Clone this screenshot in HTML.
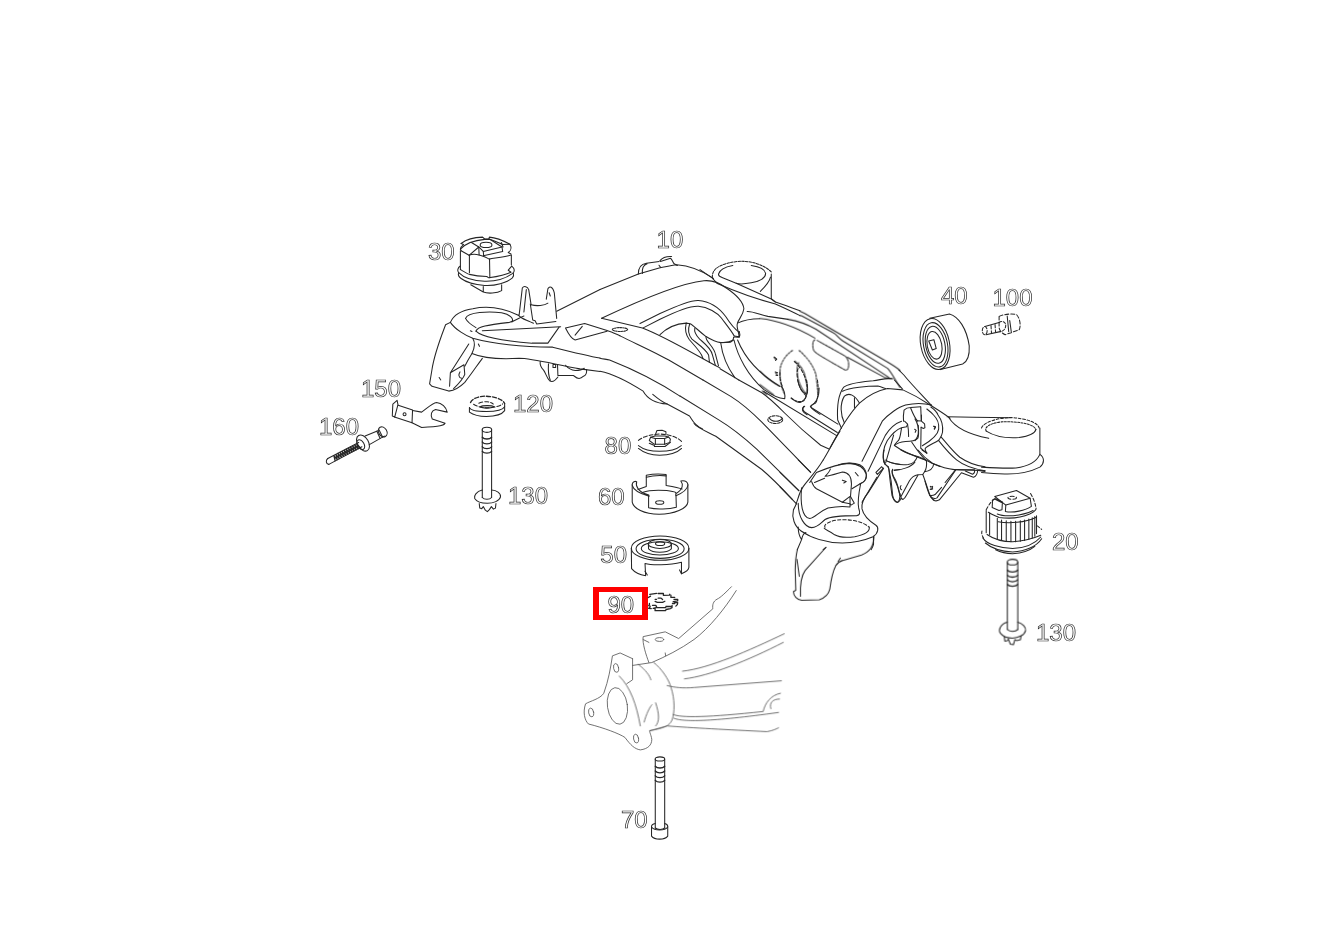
<!DOCTYPE html>
<html><head><meta charset="utf-8">
<style>
html,body{margin:0;padding:0;background:#fff;width:1326px;height:938px;overflow:hidden}
svg{position:absolute;left:0;top:0}
.d path,.d ellipse,.d line,.d polyline,.d circle{fill:none;stroke:#262626;stroke-width:1.05;vector-effect:non-scaling-stroke;stroke-linejoin:round;stroke-linecap:round}
.lbl{font-family:"Liberation Sans",sans-serif;font-size:24px;fill:none;stroke:#2e2e2e;stroke-width:0.72;will-change:transform}
.lt path,.lt ellipse{stroke:#585858;stroke-width:0.85}
</style></head><body>
<svg width="1326" height="938" viewBox="0 0 1326 938" class="d">
<!-- labels -->
<g class="lbl">
<text x="428" y="259.5">30</text>
<text x="656.6" y="247.5">10</text>
<text x="941" y="304.3">40</text>
<text x="992.5" y="306">100</text>
<text x="361" y="397">150</text>
<text x="513" y="412">120</text>
<text x="319" y="435">160</text>
<text x="604.6" y="453.5">80</text>
<text x="508" y="503.5">130</text>
<text x="598" y="505">60</text>
<text x="600.3" y="563">50</text>
<text x="1052" y="549.5">20</text>
<text x="607.5" y="612.5">90</text>
<text x="1036" y="640.5">130</text>
<text x="621" y="828">70</text>
</g>
<path d="M593,587 H648 V620 H593 Z M599,592 V615 H642 V592 Z" fill-rule="evenodd" style="fill:#ff0000;stroke:none"/>
<!-- part 30 -->
<g transform="translate(450,230) scale(0.069324)">
<path d="M160,195 C230,140 360,105 470,103 L500,130 L560,130 L568,103 C660,110 780,160 865,205 C890,250 880,300 840,325 L880,345"/>
<path d="M160,195 L195,210 C170,230 150,255 150,275 L160,300"/>
<path d="M150,275 C210,210 330,150 500,135 L560,132 C640,150 740,200 760,210 L865,205"/>
<path d="M310,180 L415,245 L480,310 L750,245 L570,130"/>
<path d="M415,245 L420,360 M480,310 L485,365 M750,245 L760,310 L480,370"/>
<path d="M740,180 L765,245"/>
<ellipse cx="520" cy="215" rx="85" ry="38"/>
<path d="M160,300 L275,365 L415,245"/>
<path d="M150,300 L150,570 M280,365 L280,615 M885,360 L885,500"/>
<path d="M275,365 C320,345 380,350 420,360 C470,375 520,390 565,420 C680,400 800,385 880,360"/>
<path d="M570,420 L575,690"/>
<path d="M150,570 C200,600 240,625 280,640 C360,660 450,668 530,670 L560,690 C700,670 800,650 880,610 L840,580 L890,520"/>
<path d="M150,520 C110,545 100,590 125,615 C200,690 340,735 500,740 C660,745 800,700 900,630 C940,600 935,555 890,520"/>
<path d="M125,615 C115,640 120,670 160,700 C240,760 380,790 500,800 C650,810 820,760 900,690 C915,670 920,640 915,625"/>
<path d="M300,790 L480,895 M480,815 L480,895 C540,920 680,915 745,875 L745,790"/>
</g>
<!-- region left end -->
<g transform="translate(420,280) scale(0.15987)">
<path d="M190,265 C210,220 260,190 330,180 C420,160 520,175 615,220"/>
<path d="M285,240 C300,200 430,195 510,205 C560,215 590,240 575,262"/>
<path d="M285,240 C295,262 320,280 350,298"/>
<path d="M350,320 C360,290 420,282 560,265 C600,255 625,232 650,225"/>
<path d="M350,320 C380,350 500,380 700,395 L800,395 L870,295"/>
<path d="M390,318 L880,292"/>
<path d="M190,265 L160,280 C130,360 90,460 75,560 L60,650 L75,665 L180,695 C220,690 260,660 280,640 C320,590 360,530 390,490"/>
<path d="M190,265 C220,310 290,350 330,365 C420,390 600,420 830,420 C950,450 1050,475 1126,488"/>
<path d="M330,365 C345,390 340,430 325,460 C300,500 290,520 280,540"/>
<path d="M305,400 L190,580 L185,665 M190,580 L275,530 L280,590 C270,620 240,650 210,680"/>
<path d="M325,460 C360,475 450,500 620,490 C700,490 850,530 1000,556 L1126,572"/>
<path d="M250,575 C240,590 240,610 260,615 M315,318 L325,322 M365,400 L372,415 M120,610 L130,625"/>
<path d="M620,220 L640,50 C650,35 672,40 680,60 L695,155 M650,200 L665,60"/>
<path d="M790,120 L800,55 C810,35 830,40 840,80 L855,240 M808,80 L815,100"/>
<path d="M695,155 C730,165 780,160 800,145"/>
<path d="M690,150 L705,250 L720,255 L730,275 L850,260"/>
<path d="M615,220 C630,240 650,245 690,262 L710,270"/>
<path d="M855,195 L1126,60"/>
<path d="M910,300 C930,340 950,370 970,375 L1170,320 M910,300 L1030,272 L1170,316 C1200,325 1230,340 1251,349 M970,345 L1015,290"/>
</g>
<!-- region top middle -->
<g transform="translate(600,240) scale(0.15987)">
<path d="M0,310 L240,212 L370,175 C420,165 450,158 480,155 C560,160 650,200 710,240"/>
<path d="M240,212 C240,170 255,150 290,145 L370,135 M265,210 C262,175 272,155 295,148"/>
<path d="M375,129 C388,113 414,101 448,103 M378,134 L441,114 C452,122 455,140 464,149 L484,159 M369,158 L379,171"/>
<path d="M10,490 C200,400 500,270 650,255 C700,250 750,270 790,300 C850,340 895,380 900,430 C895,470 870,490 860,520 C850,545 870,575 870,605 L840,600"/>
<path d="M10,490 L265,550 C400,600 600,720 750,800"/>
<ellipse cx="125" cy="560" rx="48" ry="12" stroke-dasharray="1.7 1.0"/>

<path d="M860,520 C900,500 950,492 1000,492"/>
</g>
<g transform="translate(760,290) scale(0.11191)">
<path d="M357,190 C375,198 390,205 400,210 L1150,650 C1200,680 1230,700 1251,720"/>
<path d="M357,228 C362,229 366,230 370,230 L650,380 C690,400 700,430 740,455 L1140,700 C1170,730 1200,790 1251,870"/>
<path d="M252,262 C330,275 420,305 500,350 L1150,780"/>
<path d="M0,255 C150,270 300,320 490,430"/>
<path d="M490,445 C470,450 465,500 480,540 C500,570 560,600 760,715 C790,720 795,690 790,640 C780,610 770,600 760,590 L510,450" stroke-dasharray="2.3 1.0"/>
<path d="M780,600 L1120,785 L1190,792"/>
<path d="M290,540 C230,580 190,640 180,700 C175,780 180,840 220,935 M350,540 C420,600 480,680 500,760 L520,935" stroke-dasharray="2.0 1.3"/>
<path d="M310,635 C340,660 380,690 400,760 C420,840 430,900 410,925 C380,900 340,820 335,760 C330,700 330,680 345,650" stroke-dasharray="2.0 1.0"/>
<path d="M0,725 C50,780 120,830 175,860 M0,845 L120,935 M20,900 L60,935"/>
<path d="M125,600 L140,620 M140,740 L155,760"/>
</g>
<!-- beam lower middle -->
<g transform="translate(600,360) scale(0.15987)">
<path d="M0,70 C100,90 200,150 270,195 C290,230 330,270 420,275 L560,350 C580,380 590,410 640,430"/>
<path d="M330,215 C360,240 390,265 420,275"/>
<path d="M0,-11 C20,-7 40,-4 60,0 C250,75 400,160 500,226"/>
<path d="M125,-151 C250,-90 350,-45 430,0 L644,125"/>
</g>
<g transform="translate(680,380) scale(0.12788)">
<path d="M110,340 C130,370 200,400 280,440 L640,700 C700,750 800,850 880,935"/>
<path d="M0,125 L300,310 C400,370 500,450 600,540 L930,865"/>
<path d="M180,0 L400,130 C480,180 560,250 640,330 L1020,720"/>
<path d="M460,0 L640,100 C700,140 760,200 820,260 C900,340 1000,430 1100,510 L1165,540"/>
<path d="M655,90 L1225,435"/>
<path d="M870,140 C900,165 940,180 970,160 C990,130 1000,100 995,50 L990,0" stroke-dasharray="2.7 1.3"/>
<path d="M920,0 C930,60 960,100 990,110"/>
<path d="M1075,0 C1085,80 1080,150 1060,180" stroke-dasharray="2.7 1.3"/>
<path d="M1060,180 C1030,195 1020,205 1025,215 L1235,345"/>
<path d="M975,205 C950,220 960,245 990,260 L1230,410"/>
<path d="M1251,400 C1200,480 1160,560 1120,625"/>
<ellipse cx="745" cy="310" rx="58" ry="30" stroke-dasharray="2.7 1.3"/>
<path d="M700,300 C720,330 780,330 800,300"/>
</g>
<!-- part 80 -->
<g transform="translate(625,420) scale(0.06394)">
<path d="M210,320 C280,260 400,225 540,220 C700,225 820,270 885,335" stroke-dasharray="4.0 2.0"/>
<path d="M210,400 C300,470 400,490 540,490 C700,490 820,450 880,400"/>
<path d="M210,445 C300,520 420,550 540,552 C700,550 820,510 885,445"/>
<path d="M400,270 L380,320 L460,380 L620,380 L700,350 L710,300 L680,265 L620,250 L470,250 Z"/>
<path d="M470,290 L620,290 L620,380 M475,300 L475,380 M470,290 L400,270 M620,290 L680,265"/>
<path d="M380,365 L460,400 L460,415 L625,415 L710,350"/>
<path d="M470,240 L500,165 L580,160 L640,185 L640,230"/>
</g>
<!-- part 60 & 50 -->
<g transform="translate(590,465) scale(0.12793)">
<path d="M330,150 L330,290 C340,340 420,385 540,385 C660,385 760,340 765,290 L765,150"/>
<path d="M330,150 C335,130 350,125 365,130 C355,160 370,210 460,235 L462,245 C390,225 340,200 330,160"/>
<path d="M765,150 C760,130 740,120 710,125 C730,150 730,190 670,225 L672,240 C720,220 760,190 765,160"/>
<path d="M375,192 L440,168 L440,80 C480,72 560,70 595,75 L595,160 C650,170 700,180 720,188"/>
<path d="M440,95 C480,85 560,82 595,85"/>
<path d="M410,215 C450,200 540,195 600,200 C640,205 660,210 670,215"/>
<path d="M458,240 L458,335 C520,350 620,345 675,330 L672,235"/>
<ellipse cx="545" cy="293" rx="32" ry="14"/>
<ellipse cx="548" cy="650" rx="225" ry="95"/>
<ellipse cx="548" cy="655" rx="188" ry="75"/>
<ellipse cx="546" cy="652" rx="145" ry="52"/>
<ellipse cx="546" cy="617" rx="90" ry="35"/>
<path d="M456,617 L458,655 C490,690 600,690 636,655 L636,617"/>
<ellipse cx="548" cy="615" rx="36" ry="14"/>
<path d="M323,650 L325,810 C350,840 400,860 435,865 L430,770 C480,785 620,785 715,760 L715,850 C740,840 770,820 773,800 L773,650"/>
<path d="M430,830 L448,860 M700,820 L715,850"/>
</g>
<g transform="translate(720,340) scale(0.07994)">
<path d="M0,30 C50,35 120,30 170,0"/>
<path d="M10,40 C30,200 100,350 185,470"/>
<path d="M175,0 C220,200 350,450 550,620 C650,690 750,730 810,735 C815,700 810,640 770,580"/>
<path d="M220,0 C300,200 450,400 750,580"/>
<path d="M0,360 L185,470 L235,500"/>
<path d="M750,400 C745,500 770,560 780,580" stroke-dasharray="3.3 2.0"/>
<path d="M1240,600 C1240,700 1220,750 1180,790 C1150,810 1130,830 1130,830 C1150,870 1200,900 1251,930"/>
<path d="M930,270 C1000,330 1080,450 1095,600 C1100,660 1080,700 1070,690 C1020,650 970,550 965,430 C965,380 970,360 990,340" stroke-dasharray="3.3 2.0"/>
<path d="M890,730 C930,760 980,785 1010,780 C1050,760 1080,720 1075,690"/>
<path d="M1050,830 C1010,870 1040,910 1090,935"/>
<path d="M680,215 L710,240 L695,255 M690,400 L720,410 M700,440 L720,445"/>
</g>
<!-- cross member top -->
<g transform="translate(830,375) scale(0.095923)">
<path d="M0,760 C100,580 200,400 310,290 C400,210 500,160 600,140 L760,155 C850,195 950,250 1040,310 C1120,360 1200,410 1251,450"/>
<path d="M719,-52 L770,0 C850,100 980,230 1060,320"/>
<path d="M130,170 C200,130 400,115 500,115 C550,125 560,140 580,140"/>
<path d="M120,555 L80,470 C70,300 90,200 140,130 C200,80 350,70 450,60 C530,50 580,30 640,40"/>
<path d="M150,500 C110,420 100,300 150,220 C200,180 260,210 305,290 M255,240 L255,340"/>
<path d="M90,935 C150,915 250,912 310,935"/>
</g>
<!-- front leg -->
<g transform="translate(780,460) scale(0.095923)">
<path d="M450,0 C380,120 280,220 240,280 C180,370 190,440 140,520 C120,600 150,690 220,740 C320,810 480,865 650,865 C800,862 900,830 970,800 C1030,760 1030,700 1000,680 C920,630 870,580 855,510 C845,450 870,400 920,340 L1080,85"/>
<path d="M855,440 L1010,180"/>
<path d="M190,450 C190,600 260,700 330,705 C400,700 420,660 470,620 C520,590 600,580 800,580 C830,575 840,560 820,500 C810,450 820,350 840,250"/>
<path d="M225,290 C210,450 230,600 310,610 C370,600 400,540 500,500 C600,480 700,485 730,490 L730,380 L650,440 L380,300 C350,280 335,240 330,225"/>
<path d="M470,170 C500,140 520,110 525,95 M470,170 C550,160 620,130 650,125 C720,130 745,180 745,250 L735,380 L775,450 L740,470 L728,455 L650,440"/>
<path d="M310,235 L380,130 C500,80 600,40 720,35 C820,40 880,80 900,150 C905,200 880,230 840,245 L750,300"/>
<path d="M470,700 C450,680 500,640 600,625 C700,615 850,630 930,700" stroke-dasharray="3.3 2.0"/>
<path d="M930,700 C940,750 880,780 780,800 C700,810 620,810 570,780 C520,740 470,730 460,710"/>
<path d="M190,0 L320,130 M0,130 L195,320 M0,280 L175,460 M360,235 L465,190"/>
<path d="M190,700 C190,750 205,800 225,830 C235,780 250,760 270,755 M225,830 L180,935"/>
<path d="M975,800 L975,880 C970,900 960,920 950,935 M450,935 L480,910"/>
<path d="M1080,0 C1085,40 1100,55 1130,70 C1160,200 1170,300 1175,370 C1180,400 1200,440 1230,440 C1251,420 1251,400 1251,350"/>
<path d="M1100,0 C1120,20 1200,40 1251,45 M1175,100 C1160,120 1170,160 1200,220 C1230,270 1240,340 1251,370 M1190,105 L1251,100"/>
<path d="M1000,130 L1060,70 L1075,90 L1015,150 Z M650,210 L690,225 L665,240 M785,130 L815,165"/>
</g>
<!-- right arm with seat -->
<g transform="translate(880,380) scale(0.15987)">
<path d="M420,230 C550,232 700,235 820,236"/>
<path d="M635,300 C650,260 750,235 820,235 C920,240 990,270 995,300" stroke-dasharray="2.7 1.7"/>
<path d="M665,320 C720,355 800,365 870,360 C930,350 970,330 975,310"/>
<path d="M665,320 C650,300 680,270 760,262 C850,258 960,270 975,310" stroke-dasharray="2.0 1.3"/>
<path d="M1000,300 L1000,465 C1030,485 1030,520 1000,545 C930,580 850,590 780,588 C740,587 690,584 635,578"/>
<path d="M1000,465 C980,510 930,540 850,550 C800,553 720,550 635,545"/>
<path d="M430,235 C470,300 550,340 680,365"/>
<path d="M90,0 L140,55"/>
</g>
<!-- part 20 -->
<g transform="translate(970,485) scale(0.085288)">
<path d="M290,135 L545,65 L705,155 L420,235 Z"/>
<path d="M420,235 L415,310 C500,330 650,300 720,250 L705,155"/>
<ellipse cx="495" cy="150" rx="50" ry="18" stroke-dasharray="4.0 2.0"/>
<path d="M265,175 L300,160 L380,200 L375,290 L340,300 L260,265 Z M300,170 L370,205"/>
<path d="M190,290 C220,230 260,180 290,160 M710,100 C740,150 760,200 770,250" stroke-dasharray="3.3 2.0"/>
<path d="M215,320 C260,350 320,370 340,380 C450,395 600,385 700,340 C760,310 780,290 775,270"/>
<path d="M320,340 C400,375 600,370 740,300"/>
<path d="M190,300 L190,560 M780,360 L780,570"/>
<path d="M230,330 L230,580 M320,390 L320,640 M370,410 L370,650 M425,420 L425,660 M480,425 L480,665 M535,425 L535,665 M590,420 L590,660 M640,410 L640,650 M690,400 L690,635 M730,385 L730,620 M760,370 L760,600"/>
<path d="M330,430 C450,455 650,440 770,380"/>
<path d="M200,580 C300,650 420,665 500,665 C650,660 760,620 830,590"/>
<path d="M150,620 C200,700 350,740 500,745 C650,740 760,690 830,610"/>
<path d="M180,680 C250,740 380,780 500,785 C650,780 780,720 840,630"/>
<path d="M300,760 C380,800 450,805 500,805 C600,800 700,770 760,720"/>
<path d="M140,540 C130,580 150,610 170,640 M790,480 L840,520" stroke-dasharray="2.7 2.0"/>
</g>
<!-- bolts 130 -->
<g transform="translate(980,555) scale(0.10128)">
<ellipse cx="321" cy="70" rx="52" ry="28"/>
<path d="M270,70 L270,735 M373,70 L373,735"/>
<path d="M270,150 C290,175 350,175 373,150 M270,200 C290,225 350,225 373,200 M270,245 C290,270 350,270 373,245 M270,290 C290,315 350,315 373,290" style="stroke-width:1.35"/>
<path d="M270,735 C290,760 350,760 373,735"/>
<path d="M270,662 C200,680 180,740 200,770 C230,810 290,820 320,820 C380,820 440,790 450,745 C455,710 420,675 373,662"/>
<path d="M240,805 L245,850 L270,845 L280,830 L300,880 L330,885 L345,835 L360,845 L400,835 L405,800"/>
</g>
<g transform="translate(460,420) scale(0.10128)">
<ellipse cx="266" cy="97" rx="47" ry="25"/>
<path d="M220,97 L220,765 M312,97 L312,765"/>
<path d="M220,170 C240,193 292,193 312,170 M220,218 C240,241 292,241 312,218 M220,265 C240,288 292,288 312,265 M220,310 C240,333 292,333 312,310" style="stroke-width:1.35"/>
<path d="M220,765 C240,788 292,788 312,765"/>
<path d="M220,692 C160,705 135,750 145,775 C170,815 230,822 270,822 C330,822 390,800 400,760 C405,720 360,695 312,692"/>
<path d="M190,825 L195,870 L215,875 L230,855 L250,890 L270,905 L290,885 L310,855 L330,880 L350,870 L355,825"/>
</g>
<!-- part 40 and 100 -->
<g transform="translate(910,280) scale(0.10125)">
<ellipse cx="248" cy="632" rx="142" ry="255" transform="rotate(-11 248 632)"/>
<ellipse cx="252" cy="640" rx="118" ry="222" transform="rotate(-11 252 640)"/>
<ellipse cx="250" cy="640" rx="95" ry="185" transform="rotate(-11 250 640)"/>
<ellipse cx="242" cy="645" rx="72" ry="138" transform="rotate(-11 242 645)"/>
<path d="M195,378 L390,335 C480,360 560,480 585,650 C590,750 560,810 520,830 L300,885"/>
<path d="M185,603 L236,589 L259,677 L221,692 Z"/>
<path d="M880,360 C920,340 990,330 1050,340 C1090,380 1095,450 1080,490 L1000,520 L940,540 C900,520 885,500 880,470 Z" stroke-dasharray="4.0 2.0"/>
<path d="M960,355 L975,510 M985,400 L1000,510"/>
<path d="M740,460 L880,420 M750,540 L890,510"/>
<ellipse cx="738" cy="500" rx="24" ry="40" stroke-dasharray="3.3 1.7"/>
<path d="M800,450 L805,525 M840,440 L845,515" stroke-dasharray="3.3 2.0"/>
<path d="M880,420 C900,400 940,410 945,440 C950,480 920,510 890,510" stroke-dasharray="2.7 1.7"/>
</g>
<!-- part 150, 160 -->
<g transform="translate(315,370) scale(0.10662)">
<path d="M780,330 L915,375 L910,495 L745,440"/>
<path d="M730,320 L770,285 L778,325 L748,440 L725,432 Z"/>
<path d="M915,380 L1000,395 C1050,360 1100,310 1140,305 C1190,310 1230,350 1240,395 L1130,370 C1090,380 1080,420 1100,460 L1220,500 C1210,520 1180,530 1000,540 L910,495"/>
<circle cx="840" cy="415" r="14"/>
<path d="M120,830 L410,680 M130,885 L440,720"/>
<path d="M120,830 C100,845 100,880 130,885"/>
<path d="M189,851 L177,803 L209,841 L197,793 L228,831 L216,783 L248,820 L236,773 L268,810 L255,763 L287,800 L275,753 L307,790 L294,742 L326,780 L314,732 L346,770 L333,722 L365,760 L353,712 L385,750 L373,702 L404,740 L392,692 L424,730" style="stroke-width:1.3"/>
<ellipse cx="450" cy="685" rx="52" ry="82" transform="rotate(-30 450 685)"/>
<ellipse cx="430" cy="700" rx="30" ry="50" transform="rotate(-30 430 700)"/>
<path d="M470,620 L590,570 M510,700 L650,620"/>
<ellipse cx="635" cy="580" rx="38" ry="50" transform="rotate(-30 635 580)"/>
<path d="M580,575 L610,640 M600,560 L635,630"/>
</g>
<!-- part 90 nut -->
<g transform="translate(640,585) scale(0.037707)">
<path d="M220,330 L280,295 M260,250 L440,220 M480,225 L620,225 L620,275 L780,270 L790,245 M820,270 L820,330 L920,330 M900,380 L1000,380 L1000,420 L880,440 M920,460 L1000,470 L990,520 L950,560 M860,490 L920,490" style="stroke-width:1.3"/>
<path d="M850,540 L850,600 L810,625 L690,650 L680,680 L400,680 L400,610 L350,620 M690,570 L820,570 M420,600 L680,600 L690,570 M330,540 L420,540 L440,580 M250,490 L250,520 L230,550 L270,560 L260,600 L230,620 L300,625" style="stroke-width:1.3"/>
<path d="M400,380 L440,380 M480,350 L560,350 L600,385 M400,435 L460,460 L600,460 L660,430" style="stroke-width:1.2"/>
</g><!-- bolt 70 -->
<g transform="translate(610,750) scale(0.10128)">
<ellipse cx="493" cy="88" rx="47" ry="20"/>
<path d="M447,88 L447,770 M540,88 L540,770"/>
<path d="M447,160 C467,183 520,183 540,160 M447,208 C467,231 520,231 540,208 M447,255 C467,278 520,278 540,255 M447,300 C467,323 520,323 540,300" style="stroke-width:1.35"/>
<path d="M447,725 C420,730 410,745 410,755 L410,850 C440,890 540,890 570,850 L570,755 C570,745 560,730 540,725"/>
<path d="M410,760 C440,800 540,800 570,760"/>
<path d="M447,770 C470,790 520,790 540,770"/>
</g>
<!-- knuckle (gray) -->
<g transform="translate(575,580) scale(0.19197)" class="lt">
<path d="M815,35 C780,70 760,90 740,100 C720,110 715,130 718,150 L540,305 L470,270 L355,295 C350,330 370,390 385,430"/>
<path d="M840,55 C780,150 700,250 620,310 C550,360 470,400 400,430 L300,445"/>
<path d="M355,310 L385,325 M470,380 L472,395"/>
<ellipse cx="440" cy="310" rx="22" ry="10"/>
<path d="M300,410 L235,380 L195,395 C185,460 175,520 150,590 C130,620 80,630 55,645 C40,690 50,730 70,750 C150,770 230,800 260,820 C290,860 310,880 340,885 C380,880 400,860 400,830 C395,800 385,790 390,785"/>
<path d="M300,410 L300,520 L270,540"/>
<ellipse cx="214" cy="458" rx="13" ry="23" transform="rotate(-10 214 458)"/>
<ellipse cx="84" cy="690" rx="13" ry="23" transform="rotate(-10 84 690)"/>
<ellipse cx="318" cy="826" rx="13" ry="23" transform="rotate(-10 318 826)"/>
<ellipse cx="221" cy="656" rx="52" ry="96" transform="rotate(-8 221 656)"/>
<path d="M410,430 C450,460 490,520 500,560 C520,620 520,690 505,730 C490,760 470,770 390,785"/>
<path d="M230,500 C290,560 320,650 340,760 M330,440 C370,470 390,500 395,520 M360,740 C370,700 390,660 400,650 M420,640 C440,700 440,740 420,760"/>
<path d="M560,475 C700,460 900,370 1090,280 M570,515 C700,500 900,420 1085,325"/>
<path d="M480,550 C520,560 560,565 620,560 L1075,525"/>
<path d="M510,700 C550,720 700,715 980,685 C990,640 1020,600 1070,590 M1020,670 C1010,640 1030,620 1065,620"/>
<path d="M515,720 C560,740 700,740 1060,690"/>
<path d="M390,785 L480,760 C600,770 800,780 1000,790 C1030,785 1050,775 1060,770"/>
</g>
<!-- leg bottom -->
<g transform="translate(770,500) scale(0.1173)">
<path d="M233,424 C222,470 216,520 215,600 L220,770 L200,780 C200,820 230,850 270,855 L420,850 C480,830 500,800 510,760 C520,680 530,620 560,560 C580,530 600,520 620,515 L780,470 C850,440 880,400 885,320 L885,310"/>
<path d="M260,820 C255,700 270,640 300,600 L475,405 M230,505 L250,650 M600,495 L580,525"/>
</g>
<!-- part 120 washer -->
<g transform="translate(460,385) scale(0.075415)">
<path d="M140,232 C160,180 250,150 330,148 C430,148 560,180 592,245" stroke-dasharray="4.0 2.0" style="stroke-width:1.4"/>
<path d="M180,255 C230,290 300,302 350,302 C450,302 530,282 565,250" stroke-dasharray="4.0 2.0"/>
<path d="M250,242 C280,225 330,220 360,222 C400,225 430,240 442,252" stroke-dasharray="4.0 2.0"/>
<path d="M265,290 C300,310 400,315 455,288 C420,268 300,268 265,290 Z"/>
<path d="M125,300 C140,340 250,352 350,352 C470,352 570,330 592,290 L592,245"/>
<path d="M125,300 L125,360 C180,400 270,418 350,418 C470,415 560,385 592,340 L592,290"/>
</g>
<!-- bushing under left arm -->
<g transform="translate(530,340) scale(0.075415)">
<path d="M135,285 C130,330 150,370 180,400 C210,440 220,500 260,540 C290,560 330,545 370,490"/>
<path d="M245,315 C240,400 245,480 270,535"/>
<path d="M305,325 L340,325 L340,365 L305,365 Z"/>
<path d="M365,335 L370,470 L575,470 C600,490 620,510 650,510 C680,510 700,490 710,480 C740,470 755,440 750,390"/>
<path d="M470,335 C500,370 540,400 600,405 C650,405 700,390 720,375"/>
</g>
<!-- seat top middle (precise) -->
<g transform="translate(700,250) scale(0.075415)">
<path d="M165,365 C160,330 170,280 220,240 C300,180 450,150 560,150 C700,150 850,200 945,290" stroke-dasharray="2.5 1.2"/>
<path d="M435,205 C350,220 260,260 245,320 C245,350 280,360 300,368 L480,440 C520,455 600,450 680,435 C800,410 870,360 870,310 C860,250 790,220 680,205"/>
<path d="M0,260 L160,370 L230,445"/>
<path d="M480,440 L945,650 L1000,690 C1100,720 1200,760 1326,805"/>
<path d="M230,445 C400,520 700,640 1000,715 C1100,760 1250,830 1326,870"/>
<path d="M945,320 L945,645 L1000,690"/>
<path d="M800,550 C850,500 920,430 935,360"/>
<path d="M625,815 C700,810 800,860 900,880 L1170,920"/>
</g>
<!-- P0: bracket fold upper (from 860,405 zoom) -->
<g transform="translate(860,405) scale(0.10125)">
<path d="M20,555 L220,160 C280,90 380,20 450,0 C532,-19 640,-17 707,1"/>
<path d="M80,655 L250,300 C300,220 350,180 410,160"/>
<path d="M240,570 C220,500 230,420 270,350 C320,280 380,235 410,225 L460,215 L470,190 L440,160"/>
<path d="M430,160 C425,120 430,80 435,50 C450,35 480,25 500,25 L600,18"/>
<path d="M500,30 C520,80 550,140 570,160"/>
<path d="M600,20 L605,150"/>
<path d="M470,190 C480,240 480,280 480,310"/>
<path d="M575,200 C580,250 580,310 570,330 C550,350 500,360 450,360 C400,365 360,380 340,400"/>
<path d="M410,230 C400,280 400,320 380,350 C360,370 345,385 340,400"/>
<path d="M340,400 C420,460 520,500 650,545"/>
<path d="M510,365 C560,440 600,500 650,545"/>
<path d="M540,240 L555,250 L545,270 M730,210 L745,220 L735,240"/>
</g>
<!-- P2: U bracket right (915,415 zoom) -->
<g transform="translate(915,415) scale(0.06398)">
<path d="M248,-125 C300,-90 340,-50 360,0 C420,80 440,180 430,270 C420,330 400,350 370,395"/>
<path d="M410,345 C500,450 600,580 700,660 C800,730 950,790 1094,810"/>
<path d="M370,400 C450,500 550,620 650,700 C750,780 900,840 1094,870"/>
<path d="M185,-94 C230,-60 265,-30 290,0 C340,50 380,130 370,220 C360,300 300,370 115,480"/>
<path d="M370,395 C300,440 200,480 160,520 L160,545 L185,600 L90,520 L95,190"/>
<path d="M100,0 L100,90 M30,90 L100,95 L150,140 L155,200 L130,210 L95,190"/>
<path d="M0,60 C40,120 60,200 50,300 C40,350 10,390 0,400"/>
<path d="M391,800 C480,835 600,855 700,860 L900,865 L1094,870"/>
<path d="M290,175 L320,185 L300,215"/>
</g>
<!-- P1: legs (860,450 zoom) -->
<g transform="translate(860,450) scale(0.060332)">
<path d="M0,250 C60,280 110,350 105,430 C100,500 60,540 0,560"/>
<path d="M400,0 C380,80 380,180 410,230"/>
<path d="M558,-249 L425,215"/>
<path d="M440,180 C550,230 700,250 800,240 C870,230 920,200 950,110"/>
<path d="M565,340 C700,330 850,280 910,200"/>
<path d="M680,0 C750,40 850,80 970,110 L1100,170 C1150,200 1250,250 1326,275"/>
<path d="M960,0 C1000,50 1100,150 1200,220 L1326,270"/>
<path d="M1030,0 L1110,50"/>
<path d="M1100,170 C1110,250 1090,330 1070,360 C1150,350 1210,310 1220,240"/>
<path d="M1070,360 L1040,405 L960,410 C900,420 850,460 820,510 L680,770"/>
<path d="M410,230 C450,260 480,290 480,330 C490,450 510,600 530,750 C550,820 580,860 620,870 C650,860 670,830 680,800 L710,820 C730,810 750,790 770,750 L960,420"/>
<path d="M540,320 C520,360 540,420 580,480 C620,550 640,650 660,730 C670,770 680,790 690,800"/>
<path d="M1040,405 C1080,500 1120,650 1160,750 C1180,790 1200,810 1230,830"/>
<path d="M680,590 C660,610 665,650 690,660 M1170,610 L1200,615 L1195,650 L1165,650"/>
</g>
<!-- P3: right leg (925,460 zoom) -->
<g transform="translate(925,460) scale(0.047962)">
<path d="M100,740 C140,745 180,740 210,720 L345,570"/>
<path d="M0,440 C30,550 70,680 100,740 C130,790 150,810 180,840 C220,860 260,855 300,830 L760,265 L1010,360 C1060,350 1090,300 1100,215"/>
<path d="M120,770 C160,800 220,805 250,790 L640,210"/>
<path d="M420,470 L640,200"/>
<path d="M840,230 L990,295 C1030,280 1040,240 1030,205"/>
<path d="M630,200 L1020,205 M1090,215 L1251,240"/>
<path d="M110,550 L120,560 M150,550 L160,560 M110,610 L160,600"/>
</g>
<!-- hump channel precise -->
<g transform="translate(660,295) scale(0.06394)">
<path d="M-313,447 L0,290 C300,150 500,80 600,85 C800,100 950,230 1030,340 C1100,450 1180,540 1235,580"/>
<path d="M-263,514 L0,380 C300,230 500,170 600,175 C750,185 900,280 960,360 C1050,480 1130,580 1160,640"/>
<path d="M0,620 C100,520 250,450 410,440 L470,450 C520,470 600,560 720,650 C800,700 900,740 950,745 L1100,740 C1140,720 1150,690 1150,660 C1190,650 1220,665 1240,660 C1250,640 1250,600 1240,570"/>
<path d="M410,440 C390,520 400,620 460,700 C530,780 600,850 650,938 L674,996"/>
<path d="M465,450 C440,520 440,620 500,690 C580,760 700,830 760,938 L774,1057"/>
<path d="M545,515 C530,580 560,630 620,690 C700,760 800,830 820,938 L865,1097"/>
<path d="M720,650 C710,680 740,720 780,770 C830,830 860,880 870,938 L915,1108"/>
</g>
</svg>
</body></html>
